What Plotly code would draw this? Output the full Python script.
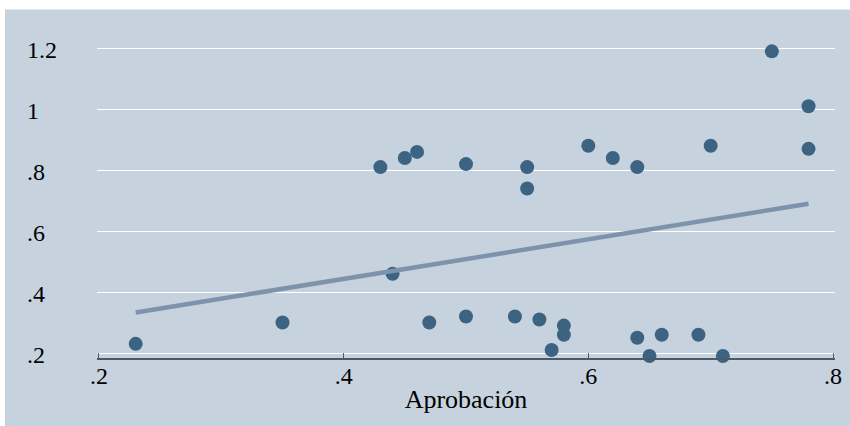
import numpy as np
import plotly.graph_objects as go

# Data
aprobacion = [0.23, 0.35, 0.43, 0.45, 0.46, 0.44, 0.47, 0.50, 0.50, 0.54,
              0.55, 0.55, 0.56, 0.57, 0.58, 0.58, 0.60, 0.62, 0.64, 0.64,
              0.65, 0.66, 0.69, 0.70, 0.71, 0.75, 0.78, 0.78]
valor = [0.23, 0.30, 0.81, 0.84, 0.86, 0.46, 0.30, 0.82, 0.32, 0.32,
         0.81, 0.74, 0.31, 0.21, 0.29, 0.26, 0.88, 0.84, 0.81, 0.25,
         0.19, 0.26, 0.26, 0.88, 0.19, 1.19, 1.01, 0.87]

x_tickvals = [0.2, 0.4, 0.6, 0.8]
x_ticktext = [".2", ".4", ".6", ".8"]
y_tickvals = [0.2, 0.4, 0.6, 0.8, 1.0, 1.2]
y_ticktext = [".2", ".4", ".6", ".8", "1", "1.2"]
x_title = "Aprobación"

# Linear fit (as Stata lfit)
slope, intercept = np.polyfit(aprobacion, valor, 1)
fit_x = np.array([min(aprobacion), max(aprobacion)])
fit_y = intercept + slope * fit_x

BG = "#C6D3DF"
FONT = "Liberation Serif"
AXC = "#4C5A66"

W, H = 850, 426
ML, MR, MT, MB = 97, 15, 30, 68
plot_w = W - ML - MR
plot_h = H - MT - MB

fig = go.Figure()
fig.add_trace(go.Scatter(
    x=aprobacion, y=valor, mode="markers",
    marker=dict(size=14, color="#3D6383", line=dict(width=0)),
    cliponaxis=False, showlegend=False, hoverinfo="skip"))
fig.add_trace(go.Scatter(
    x=fit_x, y=fit_y, mode="lines",
    line=dict(color="#7D93AC", width=4.5),
    showlegend=False, hoverinfo="skip"))

fig.add_shape(type="rect", xref="paper", yref="paper",
              x0=(5 - ML) / plot_w, x1=(W + 5 - ML) / plot_w,
              y0=-0.4, y1=1 + (MT - 9.5) / plot_h,
              fillcolor=BG, line=dict(width=0), layer="below")

# left-aligned y tick labels (Stata style)
for v, t in zip(y_tickvals, y_ticktext):
    fig.add_annotation(x=(25 - ML) / plot_w, xref="paper", y=v, yref="y",
                       text=t, showarrow=False, xanchor="left", yanchor="middle",
                       yshift=-2,
                       font=dict(family=FONT, size=24, color="black"))

fig.update_layout(
    width=W, height=H,
    margin=dict(l=ML, r=MR, t=MT, b=MB),
    paper_bgcolor="white", plot_bgcolor=BG,
    font=dict(family=FONT, size=24, color="black"),
    xaxis=dict(
        automargin=False,
        range=[0.19837, 0.80163],
        tickvals=x_tickvals, ticktext=x_ticktext,
        ticks="inside", ticklen=5, tickwidth=1.2, tickcolor=AXC,
        ticklabelstandoff=-5,
        showline=True, linecolor=AXC, linewidth=1.6,
        showgrid=False, zeroline=False,
        title=dict(text=x_title, font=dict(family=FONT, size=26, color="black"), standoff=2),
        tickfont=dict(family=FONT, size=24, color="black"),
    ),
    yaxis=dict(
        automargin=False,
        range=[0.1836, 1.26],
        tickvals=y_tickvals, showticklabels=False,
        ticks="", showline=False, zeroline=False,
        showgrid=True, gridcolor="white", gridwidth=1.4,
    ),
)

fig.write_html("out.html", config={"displayModeBar": False},
               post_script="document.body.style.margin='0';document.body.style.overflow='hidden';")
